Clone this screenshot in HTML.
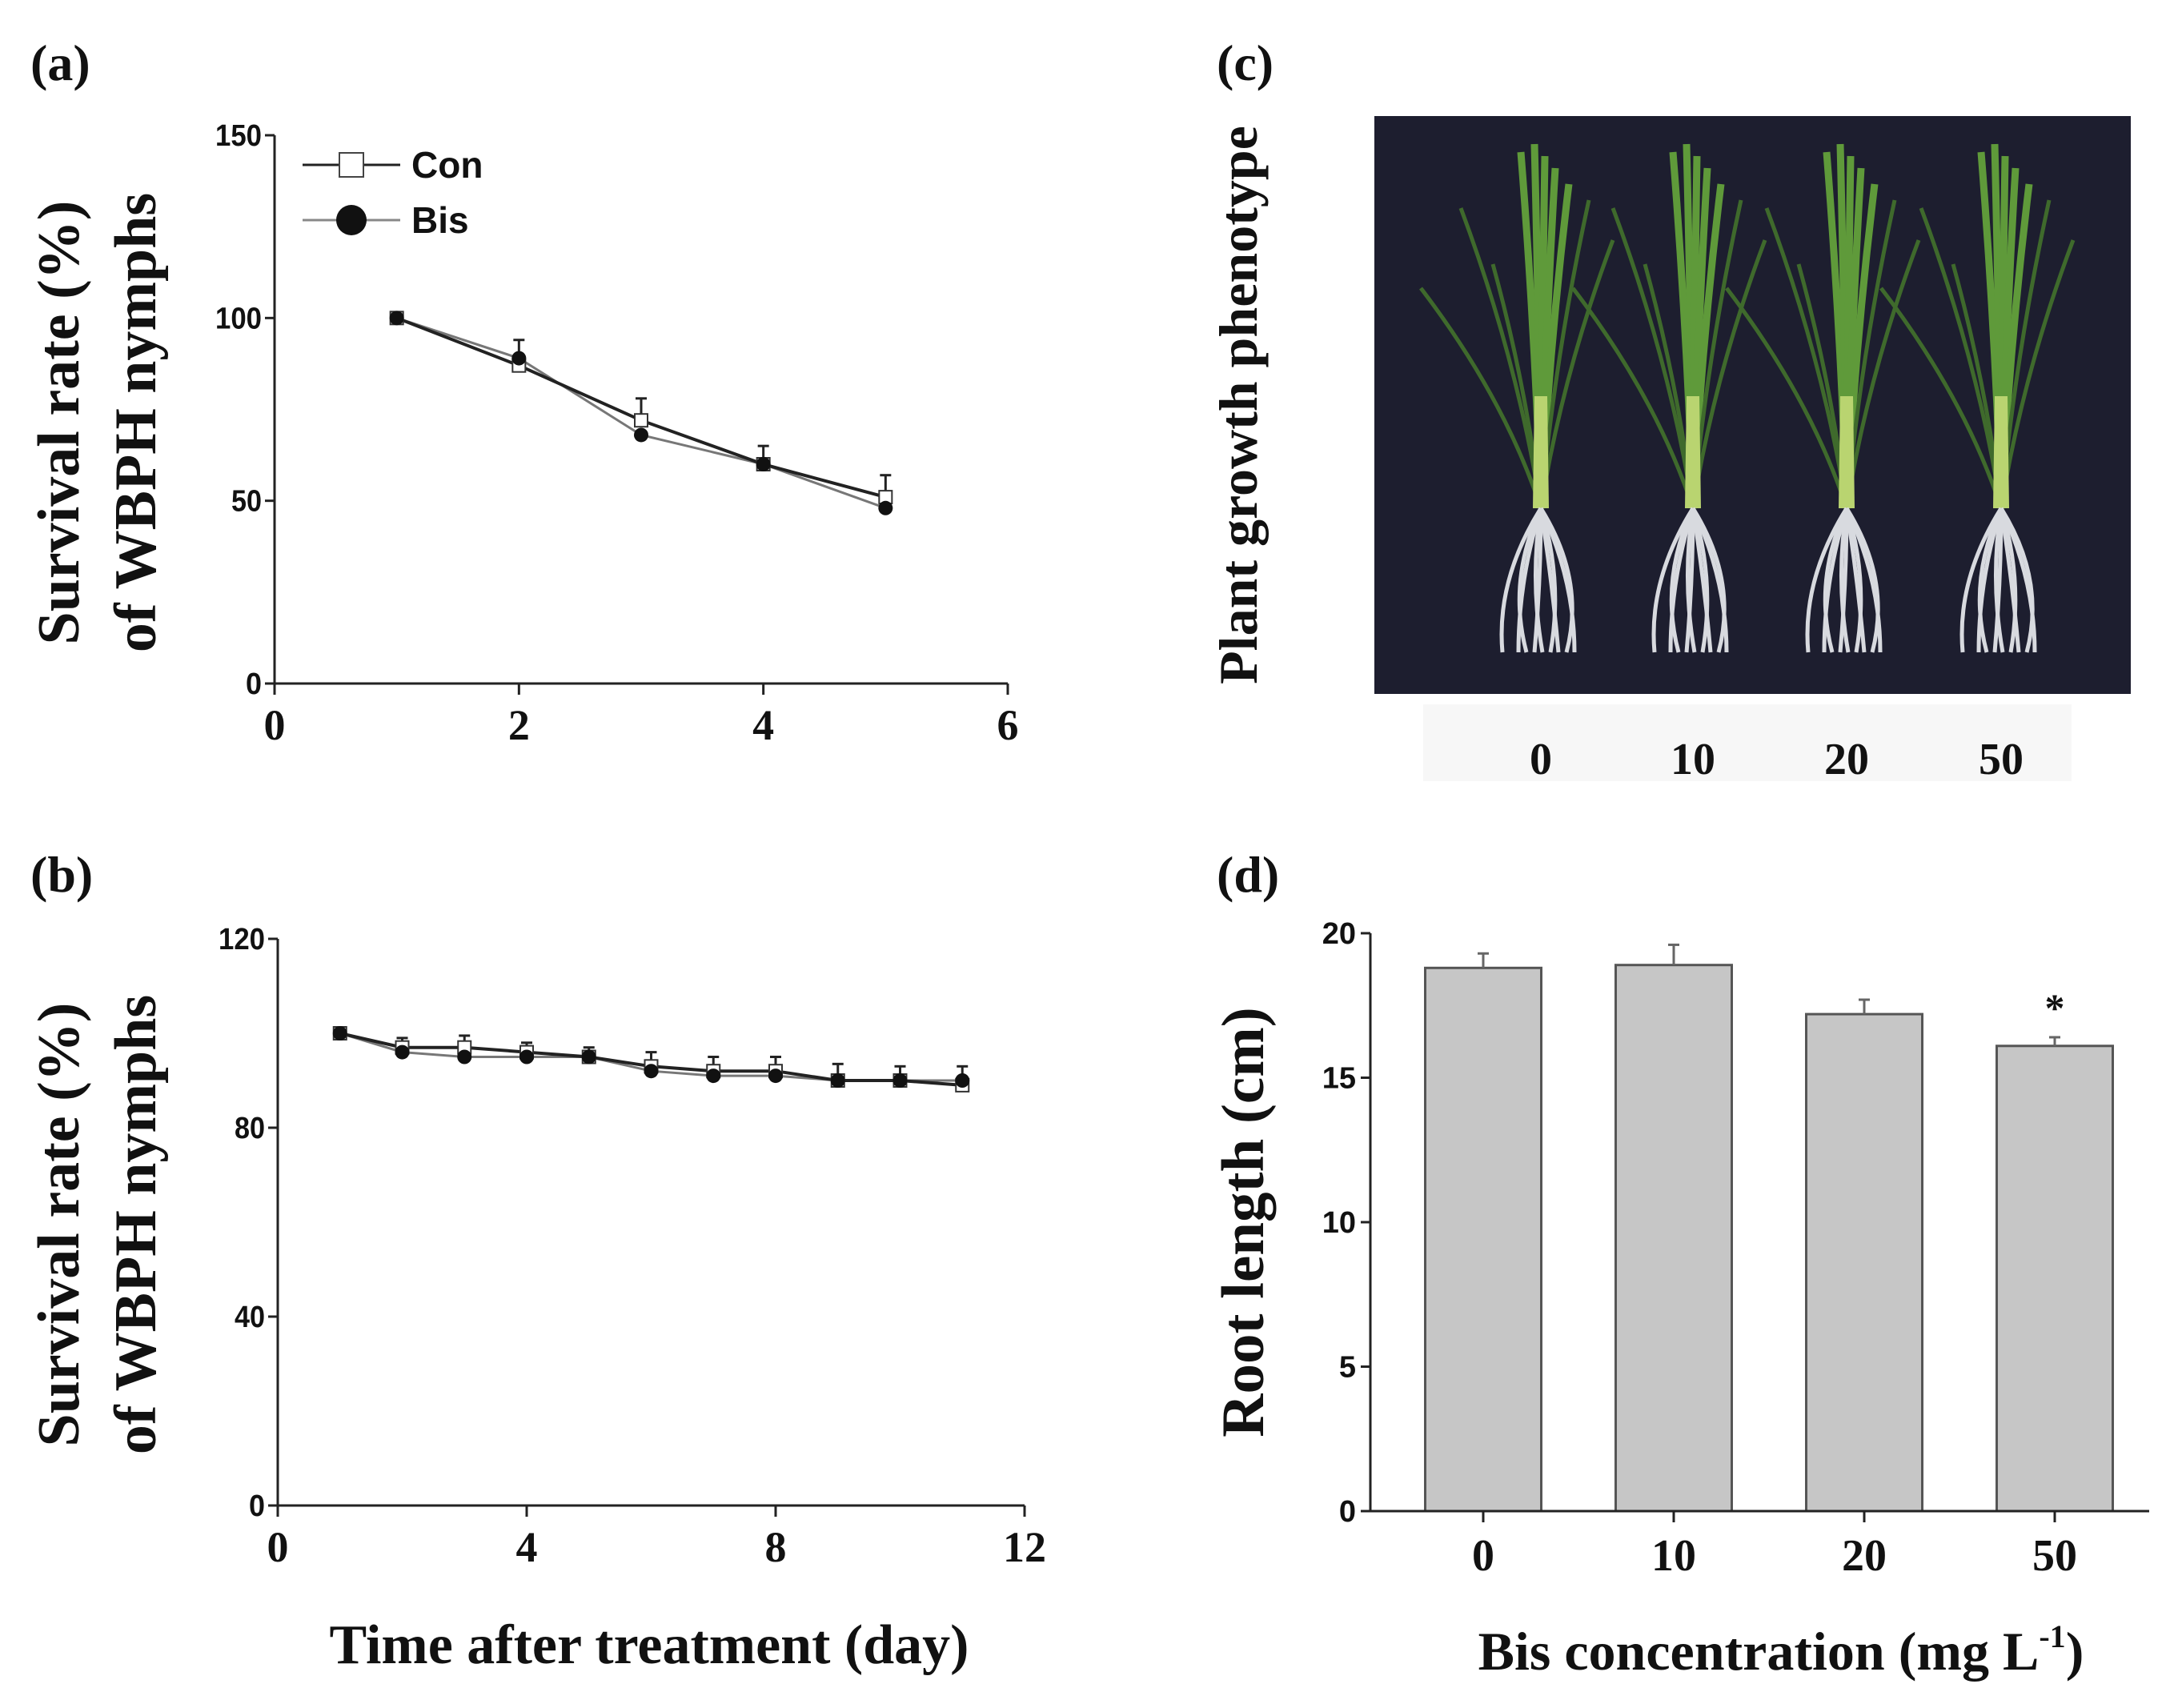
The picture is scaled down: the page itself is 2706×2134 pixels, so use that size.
<!DOCTYPE html>
<html><head><meta charset="utf-8"><style>
html,body{margin:0;padding:0;background:#fff}
svg{display:block}
.serif{font-family:"Liberation Serif",serif;font-weight:bold;fill:#111}
.sans{font-family:"Liberation Sans",sans-serif;font-weight:bold;fill:#111}
</style></head><body>
<svg id="fig" width="2706" height="2134" viewBox="0 0 2706 2134" xmlns="http://www.w3.org/2000/svg">
<g id="pa"></g>
<g id="pb"></g>
<g id="pc"></g>
<g id="pd"></g>
</svg>
<script>
// Panel a data
const aDays=[1,2,3,4,5];
const aCon=[100,87,72,60,51];
const aConErr=[0,7,6,5,6];
const aBis=[100,89,68,60,48];
const aXTicks=[0,2,4,6];
const aYTicks=[0,50,100,150];
// Panel b data
const bDays=[1,2,3,4,5,6,7,8,9,10,11];
const bCon=[100,97,97,96,95,93,92,92,90,90,89];
const bConErr=[0,2,2.5,2,2,3,3,3,3.5,3,4];
const bBis=[100,96,95,95,95,92,91,91,90,90,90];
const bXTicks=[0,4,8,12];
const bYTicks=[0,40,80,120];
// Panel d data
const dCats=["0","10","20","50"];
const dVals=[18.8,18.9,17.2,16.1];
const dErr=[0.5,0.7,0.5,0.3];
const dYTicks=[0,5,10,15,20];
const cLabels=["0","10","20","50"];

const NS="http://www.w3.org/2000/svg";
function mk(parent,tag,attrs,text){const e=document.createElementNS(NS,tag);for(const k in attrs)e.setAttribute(k,attrs[k]);if(text!==undefined)e.textContent=text;parent.appendChild(e);return e;}

function linePanel(g,o){
  const X=v=>o.x0+(v-o.xmin)/(o.xmax-o.xmin)*(o.x1-o.x0);
  const Y=v=>o.y0-(v-o.ymin)/(o.ymax-o.ymin)*(o.y0-o.y1);
  let e;
  e=mk(g,'line',{x1:o.x0,y1:o.y0,x2:o.x1,y2:o.y0,stroke:'#222','stroke-width':3});
  
  
  e=mk(g,'line',{x1:o.x0,y1:o.y0,x2:o.x0,y2:o.y1,stroke:'#222','stroke-width':3});
  
  
  o.xt.forEach(t=>{
    mk(g,'line',{x1:X(t),y1:o.y0,x2:X(t),y2:o.y0+14,stroke:'#222','stroke-width':3});
    e=mk(g,'text',{x:X(t),y:o.y0+70,'text-anchor':'middle','class':'serif','font-size':54},t);
    
    
  });
  o.yt.forEach(t=>{
    mk(g,'line',{x1:o.x0-12,y1:Y(t),x2:o.x0,y2:Y(t),stroke:'#222','stroke-width':3});
    e=mk(g,'text',{x:o.x0-16,y:Y(t)+13,'text-anchor':'end','class':'sans','font-size':38,'textLength':t>=100?58:(t>0?38:20),'lengthAdjust':'spacingAndGlyphs'},t);
    
    
  });
  o.days.forEach((d,i)=>{ if(o.err[i]>0){
    mk(g,'line',{x1:X(d),y1:Y(o.con[i]),x2:X(d),y2:Y(o.con[i]+o.err[i]),stroke:'#222','stroke-width':3});
    e=mk(g,'line',{x1:X(d)-7,y1:Y(o.con[i]+o.err[i]),x2:X(d)+7,y2:Y(o.con[i]+o.err[i]),stroke:'#222','stroke-width':3});
    
    
  }});
  e=mk(g,'polyline',{points:o.days.map((d,i)=>X(d)+','+Y(o.bis[i])).join(' '),fill:'none',stroke:'#777','stroke-width':3});
  
  
  e=mk(g,'polyline',{points:o.days.map((d,i)=>X(d)+','+Y(o.con[i])).join(' '),fill:'none',stroke:'#222','stroke-width':4});
  
  
  o.days.forEach((d,i)=>{
    e=mk(g,'rect',{x:X(d)-8,y:Y(o.con[i])-8,width:16,height:16,fill:'#fff',stroke:'#333','stroke-width':2});
    
    
    e=mk(g,'circle',{cx:X(d),cy:Y(o.bis[i]),r:9,fill:'#111'});
    
    
  });
}

function yTitle(g,cx,cy,lines,fs,gap){
  lines.forEach((l,i)=>{
    const x=cx+i*gap, e=mk(g,'text',{x:x,y:cy,'text-anchor':'middle','class':'serif','font-size':fs,transform:`rotate(-90 ${x} ${cy})`},l);
    
    
  });
}

// Panel a
const pa=document.getElementById('pa');
let e=mk(pa,'text',{x:38,y:100,'class':'serif','font-size':64},'(a)');


yTitle(pa,98,528,['Survival rate (%)','of WBPH nymphs'],74,96);
linePanel(pa,{x0:343,x1:1259,y0:854,y1:169,xmin:0,xmax:6,ymin:0,ymax:150,xt:aXTicks,yt:aYTicks,days:aDays,con:aCon,err:aConErr,bis:aBis});
const lg=mk(pa,'g',{});


mk(lg,'line',{x1:378,y1:206,x2:500,y2:206,stroke:'#222','stroke-width':3});
mk(lg,'rect',{x:424,y:191,width:30,height:30,fill:'#fff',stroke:'#444','stroke-width':2});
e=mk(lg,'text',{x:514,y:222,'class':'sans','font-size':46},'Con');


mk(lg,'line',{x1:378,y1:275,x2:500,y2:275,stroke:'#888','stroke-width':3});
mk(lg,'circle',{cx:439,cy:275,r:19,fill:'#111'});
e=mk(lg,'text',{x:514,y:291,'class':'sans','font-size':46},'Bis');



// Panel b
const pb=document.getElementById('pb');
e=mk(pb,'text',{x:38,y:1114,'class':'serif','font-size':64},'(b)');


yTitle(pb,98,1530,['Survival rate (%)','of WBPH nymphs'],74,96);
linePanel(pb,{x0:347,x1:1280,y0:1881,y1:1173,xmin:0,xmax:12,ymin:0,ymax:120,xt:bXTicks,yt:bYTicks,days:bDays,con:bCon,err:bConErr,bis:bBis});
e=mk(pb,'text',{x:811,y:2078,'text-anchor':'middle','class':'serif','font-size':70},'Time after treatment (day)');



// Panel c
const pc=document.getElementById('pc');
e=mk(pc,'text',{x:1520,y:100,'class':'serif','font-size':64},'(c)');


yTitle(pc,1570,506,['Plant growth phenotype'],68,0);
e=mk(pc,'rect',{x:1717,y:145,width:945,height:722,fill:'#1d1e2f'});


mk(pc,'rect',{x:1778,y:880,width:810,height:96,fill:'#f7f7f7'});
const plantX=[1925,2115,2307,2500];
plantX.forEach((px,i)=>{
  const pg=mk(pc,'g',{});
  
  
  const base=635;
  [[-25,190],[-8,180],[5,195],[18,210],[35,230],[-60,330],[-150,360],[90,300],[-100,260],[60,250]].forEach(([dx,top],k)=>{
    mk(pg,'path',{d:`M${px} ${base} Q${px+dx*0.3} ${(base+top)/2} ${px+dx} ${top}`,stroke:k<5?'#5f9a3a':'#3f6a2c','stroke-width':k<5?9:5,fill:'none'});
  });
  mk(pg,'path',{d:`M${px-10} ${base} L${px+10} ${base} L${px+8} ${base-140} L${px-8} ${base-140}Z`,fill:'#b9d470'});
  for(let k=-4;k<=4;k++){
    mk(pg,'path',{d:`M${px} ${base} Q${px+k*14} ${base+90} ${px+k*10+(k%2?12:-8)} ${base+180}`,stroke:'#d8dadf','stroke-width':5,fill:'none'});
  }
  e=mk(pc,'text',{x:px,y:967,'text-anchor':'middle','class':'serif','font-size':56},cLabels[i]);
  
  
});

// Panel d
const pd=document.getElementById('pd');
e=mk(pd,'text',{x:1520,y:1114,'class':'serif','font-size':64},'(d)');


yTitle(pd,1578,1527,['Root length (cm)'],75,0);
const dx0=1712,dx1=2685,dy0=1888,dy1=1166,bw=145;
const dY=v=>dy0-v/20*(dy0-dy1);
const dX=i=>1853+i*((2567-1853)/(dCats.length-1));
dVals.forEach((v,i)=>{
  e=mk(pd,'rect',{x:dX(i)-bw/2,y:dY(v),width:bw,height:dy0-dY(v),fill:'#c6c6c6',stroke:'#555','stroke-width':3});
  
  
  mk(pd,'line',{x1:dX(i),y1:dY(v),x2:dX(i),y2:dY(v+dErr[i]),stroke:'#666','stroke-width':3});
  e=mk(pd,'line',{x1:dX(i)-7,y1:dY(v+dErr[i]),x2:dX(i)+7,y2:dY(v+dErr[i]),stroke:'#666','stroke-width':3});
  
  
  mk(pd,'line',{x1:dX(i),y1:dy0,x2:dX(i),y2:dy0+14,stroke:'#222','stroke-width':3});
  e=mk(pd,'text',{x:dX(i),y:dy0+74,'text-anchor':'middle','class':'serif','font-size':56},dCats[i]);
  
  
});
e=mk(pd,'text',{x:dX(3),y:dY(dVals[3]+dErr[3])-20,'text-anchor':'middle','class':'serif','font-size':50},'*');


e=mk(pd,'line',{x1:dx0,y1:dy0,x2:dx1,y2:dy0,stroke:'#222','stroke-width':3});


e=mk(pd,'line',{x1:dx0,y1:dy0,x2:dx0,y2:dy1,stroke:'#222','stroke-width':3});


dYTicks.forEach(t=>{
  mk(pd,'line',{x1:dx0-12,y1:dY(t),x2:dx0,y2:dY(t),stroke:'#222','stroke-width':3});
  e=mk(pd,'text',{x:dx0-18,y:dY(t)+13,'text-anchor':'end','class':'sans','font-size':38},t);
  
  
});
e=mk(pd,'text',{x:2225,y:2086,'text-anchor':'middle','class':'serif','font-size':68},'');


e.appendChild(document.createTextNode('Bis concentration (mg L'));
mk(e,'tspan',{dy:-28,'font-size':40},'-1');
mk(e,'tspan',{dy:28},')');
</script>
</body></html>
